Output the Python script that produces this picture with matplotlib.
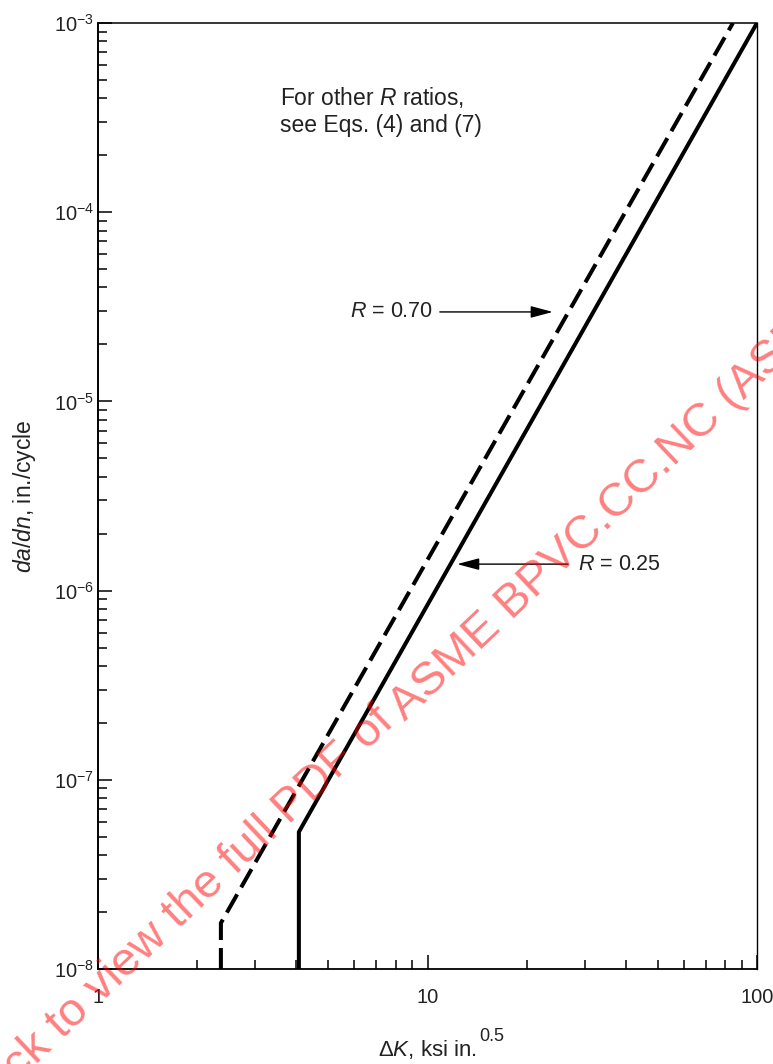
import matplotlib
matplotlib.use("Agg")
import matplotlib.pyplot as plt
from matplotlib.ticker import LogLocator, FixedLocator, NullFormatter

plt.rcParams['font.family'] = ['Liberation Sans', 'DejaVu Sans']
plt.rcParams['mathtext.fontset'] = 'custom'
plt.rcParams['mathtext.rm'] = 'Liberation Sans'
plt.rcParams['mathtext.it'] = 'Liberation Sans:italic'
plt.rcParams['mathtext.default'] = 'regular'

# Kurven: Risswachstum, Knick unten senkrecht zum Schwellwert
r025_dk = [4.07, 4.07, 100.0]
r025_rate = [1e-8, 5.3e-8, 1e-3]
r070_dk = [2.36, 2.36, 84.5]
r070_rate = [1e-8, 1.75e-8, 1e-3]

x_ticks = [1, 10, 100]
x_labels = ['1', '10', '100']
y_ticks = [1e-8, 1e-7, 1e-6, 1e-5, 1e-4, 1e-3]
y_labels = [r'$10^{-8}$', r'$10^{-7}$', r'$10^{-6}$', r'$10^{-5}$', r'$10^{-4}$', r'$10^{-3}$']

fig = plt.figure(figsize=(7.73, 10.64), dpi=100)
ax = fig.add_axes([0.1268, 0.0893, 0.8525, 0.8891])

ax.plot(r025_dk, r025_rate, color='black', lw=2.9, solid_joinstyle='miter')
ax.plot(r070_dk, r070_rate, color='black', lw=2.9, dashes=(5.2, 2), dash_joinstyle='miter')

ax.set_xscale('log')
ax.set_yscale('log')
ax.set_xlim(1, 100)
ax.set_ylim(1e-8, 1e-3)

ax.xaxis.set_major_locator(FixedLocator(x_ticks))
ax.set_xticklabels(x_labels)
ax.yaxis.set_major_locator(FixedLocator(y_ticks))
ax.set_yticklabels(y_labels)
ax.xaxis.set_minor_locator(LogLocator(base=10, subs=range(2, 10)))
ax.yaxis.set_minor_locator(LogLocator(base=10, subs=range(2, 10)))
ax.xaxis.set_minor_formatter(NullFormatter())
ax.yaxis.set_minor_formatter(NullFormatter())

ax.tick_params(which='both', direction='in', top=False, right=False, colors='black')
ax.tick_params(which='major', length=10, width=1.1, labelsize=14.5, labelcolor='#222222')
ax.tick_params(which='minor', length=6.5, width=1.1)
ax.tick_params(axis='x', which='major', pad=14)
ax.tick_params(axis='y', which='major', pad=3)

ax.spines['left'].set_linewidth(1.4)
ax.spines['bottom'].set_linewidth(1.3)
ax.spines['top'].set_linewidth(1.1)
ax.spines['right'].set_linewidth(1.0)

ax.set_ylabel(r'$\mathit{da/dn}$, in./cycle', fontsize=16.5, color='#222222', labelpad=11)

# x-Beschriftung, Hochzahl extra, damit der Haupttext mittig sitzt
xl = ax.text(0.5, -0.085, r'Δ$\mathit{K}$, ksi in.', transform=ax.transAxes,
             ha='center', va='center', fontsize=16, color='#222222')
ax.annotate('0.5', xy=(1.0, 0.68), xycoords=xl, xytext=(1.5, 0), textcoords='offset points',
            ha='left', va='bottom', fontsize=13, color='#222222')

ax.text(0.276, 0.934, 'For other $\\mathit{R}$ ratios,\nsee Eqs. (4) and (7)',
        transform=ax.transAxes, ha='left', va='top', fontsize=16.5,
        color='#222222', linespacing=1.2)

arrow_style = dict(arrowstyle='-|>,head_length=0.45,head_width=0.12', lw=1.0,
                   color='black', mutation_scale=30, shrinkA=0, shrinkB=0)
ax.annotate('', xy=(24.0, 2.97e-5), xytext=(10.9, 2.97e-5), arrowprops=arrow_style)
ax.text(10.4, 2.97e-5, r'$\mathit{R}$ = 0.70', ha='right', va='center', fontsize=15.5, color='#222222')
ax.annotate('', xy=(12.3, 1.38e-6), xytext=(26.7, 1.38e-6), arrowprops=arrow_style)
ax.text(28.6, 1.38e-6, r'$\mathit{R}$ = 0.25', ha='left', va='center', fontsize=15.5, color='#222222')

# Wasserzeichen
fig.text(396 / 773, 1 - 724 / 1064, 'Click to view the full PDF of', rotation=43.5,
         rotation_mode='anchor', ha='right', va='baseline', fontsize=34,
         color='red', alpha=0.5)
fig.text(405 / 773, 1 - 722 / 1064, 'ASME BPVC.CC.NC (ASME', rotation=43.5,
         rotation_mode='anchor', ha='left', va='baseline', fontsize=34,
         color='red', alpha=0.5)

fig.savefig('out.png', dpi=100)
